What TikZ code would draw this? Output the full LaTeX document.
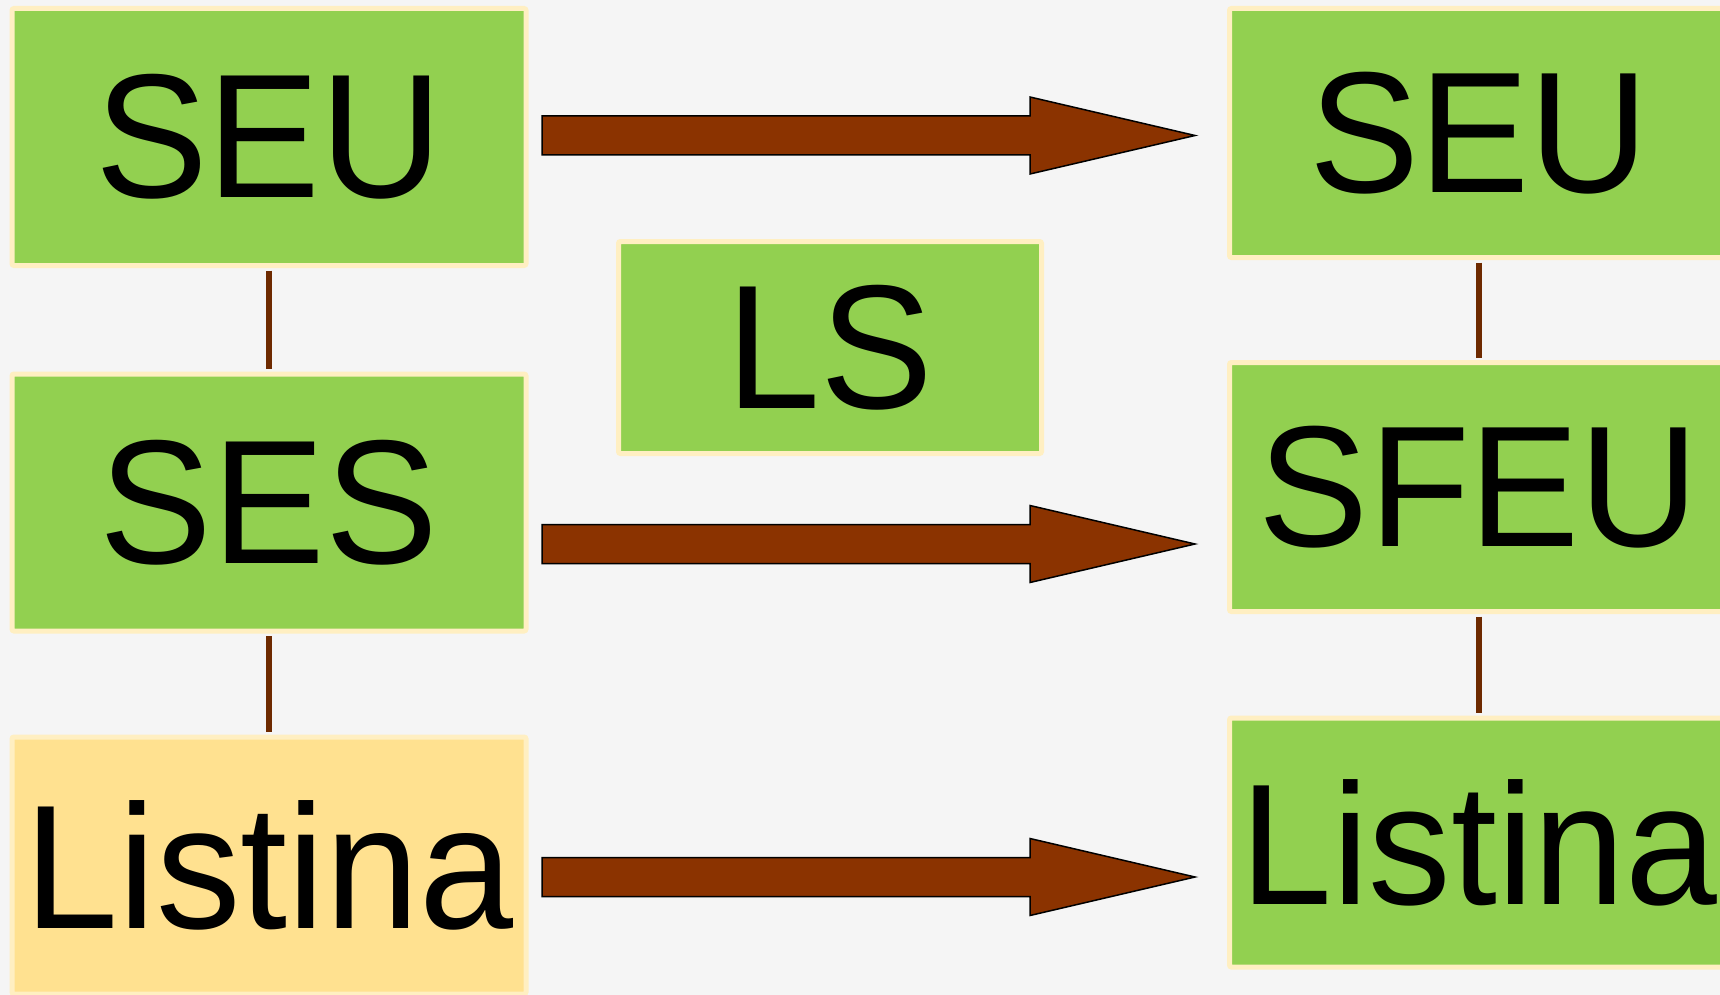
\documentclass[tikz,border=0pt]{standalone}
\usepackage{fontspec}
\setmainfont{Liberation Sans}
\usepackage{xcolor}
\usepackage{graphicx}
\definecolor{PageGray}{HTML}{F5F5F5}
\definecolor{BoxGreen}{HTML}{92D050}
\definecolor{BoxYellow}{HTML}{FFE190}
\definecolor{BoxRim}{HTML}{FFEFC2}
\definecolor{ArrowBrown}{HTML}{8B3300}
\definecolor{LinkBrown}{HTML}{6E2A00}
\usetikzlibrary{positioning}
\newcommand\tallText[1]{\scalebox{1}[1.045]{#1}}

\begin{document}
\begin{tikzpicture}[x=1pt, y=-1pt,
      unit/.style={draw=BoxRim, line width=5pt, fill=BoxGreen,
                   rounded corners=2pt, inner sep=0pt,
                   minimum width=514pt, minimum height=257pt,
                   font=\fontsize{169}{190}\selectfont, text=black},
      rightunit/.style={unit, minimum width=499pt, minimum height=249pt,
                   font=\fontsize{165}{186}\selectfont},
      link/.style={LinkBrown, line width=6pt,
                   shorten <=2.5pt, shorten >=2.5pt},
      bigarrow/.style={fill=ArrowBrown, draw=black, line width=1.5pt,
                       line join=miter}]

      \useasboundingbox (0,0) rectangle (1720,995);
      \fill[PageGray] (0,0) rectangle (1720,995);

      % left column
      \node[unit]                 (seuL) at (269,137)   {\tallText{SEU}};
      \node[unit]                 (sesL) at (269,502.5) {\tallText{SES}};
      \node[unit, fill=BoxYellow] (lstL) at (269,865.5) {\tallText{Listina}};

      % middle
      \node[unit, minimum width=423pt, minimum height=212pt]
                                  (ls)   at (830,347.5) {\tallText{LS}};

      % right column
      \node[rightunit] (seuR)  at (1479,133)   {\tallText{SEU}};
      \node[rightunit] (sfeuR) at (1479,487)   {\tallText{SFEU}};
      \node[rightunit] (lstR)  at (1479,842.5) {\tallText{Listina}};

      \foreach \a/\b in {seuL/sesL, sesL/lstL, seuR/sfeuR, sfeuR/lstR}
        \draw[link] (\a) -- (\b);

      % block arrows
      \foreach \yy in {135.5, 544, 877}
        \draw[bigarrow] (542,{\yy-19.5}) -- (1030,{\yy-19.5})
          -- (1030,{\yy-38.5}) -- (1195,\yy) -- (1030,{\yy+38.5})
          -- (1030,{\yy+19.5}) -- (542,{\yy+19.5}) -- cycle;
    \end{tikzpicture}
\end{document}
